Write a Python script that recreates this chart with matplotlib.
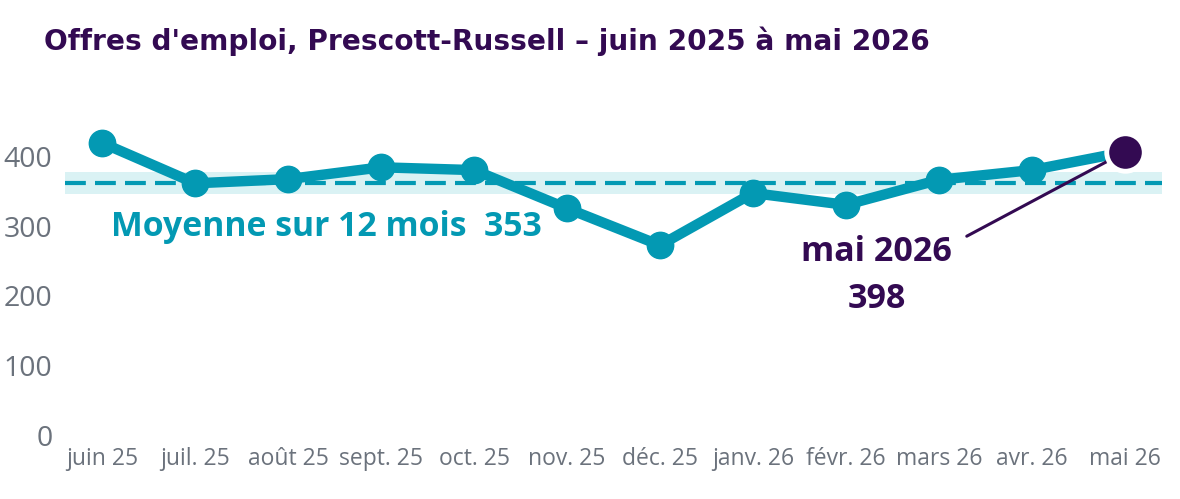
import matplotlib
matplotlib.use("Agg")
import matplotlib.pyplot as plt
import matplotlib.transforms as mtransforms

months = ["juin 25", "juil. 25", "août 25", "sept. 25", "oct. 25", "nov. 25",
          "déc. 25", "janv. 26", "févr. 26", "mars 26", "avr. 26", "mai 26"]
values = [411, 353, 359, 376, 372, 317, 264, 339, 322, 358, 372, 398]
mean_value = 353
y_ticks = [0, 100, 200, 300, 400]
title = "Offres d'emploi, Prescott-Russell – juin 2025 à mai 2026"
mean_label = "Moyenne sur 12 mois  353"
last_label = "mai 2026\n398"

TEAL = "#0399B3"
PURPLE = "#330A52"
BAND = "#DAF2F4"
GRAY = "#6B727C"

W, H = 1180, 499
fig = plt.figure(figsize=(W / 100, H / 100), dpi=100)
left, right, bottom, top = 65, 1162, 429, 110
ax = fig.add_axes([left / W, (H - bottom) / H, (right - left) / W, (bottom - top) / H])

x = list(range(len(months)))
ax.set_xlim(-0.4, len(months) - 1 + 0.4)
ax.set_ylim(0, (bottom - top) / 0.696)

# mean band + dashed line
ax.axhspan(mean_value - 16, mean_value + 16, color=BAND, zorder=1, lw=0)
ax.axhline(mean_value, color=TEAL, lw=3, ls=(0, (5, 2.2)), zorder=2)

# main line
ax.plot(x[:-1], values[:-1], color=TEAL, lw=7.5, marker="o", ms=19,
        solid_capstyle="round", zorder=3)
ax.plot(x[-2:], values[-2:], color=TEAL, lw=7.5, zorder=3)

# annotation connector
ax.annotate("", xy=(x[-1], values[-1]), xytext=(9.3, 277),
            arrowprops=dict(arrowstyle="-", color=PURPLE, lw=2.2,
                            shrinkA=0, shrinkB=6), zorder=4)
ax.plot([x[-1]], [values[-1]], marker="o", ms=27, color=PURPLE,
        mec="white", mew=3.5, zorder=5)

ax.text(8.33, 220, last_label, ha="center", va="center", color=PURPLE,
        fontsize=24.5, fontweight="bold", family="Open Sans", linespacing=1.5)
ax.text(0.1, 290, mean_label, ha="left", va="center", color=TEAL,
        fontsize=24.3, fontweight="bold", family="Open Sans")

ax.set_xticks(x)
ax.set_xticklabels(months, fontsize=16.5, color=GRAY, family="Open Sans")
ax.set_yticks(y_ticks)
ax.set_yticklabels([str(v) for v in y_ticks], fontsize=20.5, color=GRAY,
                   family="Open Sans")
ax.tick_params(axis="both", length=0)
ax.tick_params(axis="y", pad=9)
ax.tick_params(axis="x", pad=13)
offset = mtransforms.ScaledTranslation(0, -6 / 100, fig.dpi_scale_trans)
for lab in ax.get_yticklabels():
    lab.set_transform(lab.get_transform() + offset)
for s in ax.spines.values():
    s.set_visible(False)

fig.text(44 / W, 1 - 41 / H, title, ha="left", va="center", color=PURPLE,
         fontsize=20.2, fontweight="bold", family="DejaVu Sans")

fig.savefig("out.png", dpi=100)
